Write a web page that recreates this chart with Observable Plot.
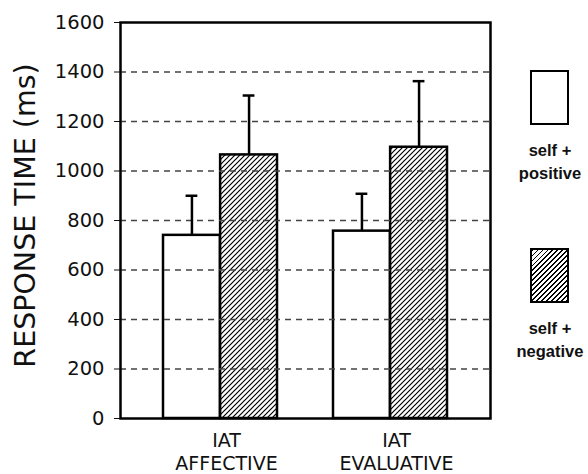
<!DOCTYPE html>
<html>
<head>
<meta charset="utf-8">
<script src="https://cdn.jsdelivr.net/npm/d3@7"></script>
<script src="https://cdn.jsdelivr.net/npm/@observablehq/plot@0.6"></script>
<style>
  body { margin: 0; background: #fff; }
  #wrap { position: relative; width: 588px; height: 474px; font-family: "Liberation Sans", Arial, sans-serif; }
  .leg { position: absolute; text-align: center; font-weight: bold; font-size: 16.5px; line-height: 23px; color: #111; }
  .box { position: absolute; box-sizing: border-box; border: 2px solid #000; }
</style>
</head>
<body>
<div id="wrap"></div>
<script>
// ---- data ----
const groups = ["IAT\nAFFECTIVE", "IAT\nEVALUATIVE"];
const series = ["self + positive", "self + negative"];
const positiveMeans = [740, 757];
const positiveUpper = [900, 908];
const negativeMeans = [1065, 1096];
const negativeUpper = [1305, 1363];
const yTicks = [0, 200, 400, 600, 800, 1000, 1200, 1400, 1600];
const gridTicks = [200, 400, 600, 800, 1000, 1200, 1400];
const yLabel = "RESPONSE TIME (ms)";

const pos = groups.map((g, i) => ({group: g, series: series[0], mean: positiveMeans[i], upper: positiveUpper[i]}));
const neg = groups.map((g, i) => ({group: g, series: series[1], mean: negativeMeans[i], upper: negativeUpper[i]}));

// ---- layout ----
const W = 588, H = 474;
const mL = 120, mR = 98, mT = 22, mB = 56;
const pi = 0.33, po = 0.25;
const plotW = W - mL - mR;
const step = plotW / (groups.length - pi + 2 * po);
const bw = step * (1 - pi);
const half = bw / 2;
const cap = 6;

const chart = Plot.plot({
  width: W, height: H,
  marginLeft: mL, marginRight: mR, marginTop: mT, marginBottom: mB,
  style: {fontFamily: "'DejaVu Sans', sans-serif", background: "#fff", color: "#111"},
  x: {domain: groups, paddingInner: pi, paddingOuter: po, align: 0.5, axis: null},
  y: {domain: [0, 1600], ticks: yTicks, tickSize: 6, tickPadding: 10, label: null, tickFormat: d => String(d)},
  marks: [
    // bars
    Plot.barY(pos, {x: "group", y: "mean", fill: "#fff", stroke: "#000", strokeWidth: 2.5, insetRight: half}),
    Plot.barY(neg, {x: "group", y: "mean", fill: "url(#hatch)", stroke: "#000", strokeWidth: 2.5, insetLeft: half}),
    // grid drawn over bars (as in reference)
    Plot.ruleY(gridTicks, {stroke: "#444", strokeWidth: 1.4, strokeDasharray: "6,5"}),
    // error bars
    Plot.ruleX(pos, {x: "group", y1: "mean", y2: "upper", dx: -bw / 4, stroke: "#000", strokeWidth: 2.5}),
    Plot.ruleX(neg, {x: "group", y1: "mean", y2: "upper", dx: bw / 4, stroke: "#000", strokeWidth: 2.5}),
    Plot.tickY(pos, {x: "group", y: "upper", insetLeft: bw / 4 - cap, insetRight: bw * 3 / 4 - cap, stroke: "#000", strokeWidth: 2.5}),
    Plot.tickY(neg, {x: "group", y: "upper", insetLeft: bw * 3 / 4 - cap, insetRight: bw / 4 - cap, stroke: "#000", strokeWidth: 2.5}),
    Plot.frame({stroke: "#000", strokeWidth: 2.5}),
    // category labels
    Plot.text(groups, {x: d => d, text: d => d, frameAnchor: "bottom", lineAnchor: "top", dy: 12, dx: 6, fontSize: 19, lineHeight: 1.22, fill: "#111"}),
    // y label
    Plot.text([yLabel], {frameAnchor: "left", textAnchor: "middle", text: d => d, rotate: -90, dx: -95, dy: -5, fontSize: 28.5, fill: "#111"})
  ]
});

// hatch pattern
const ns = "http://www.w3.org/2000/svg";
const defs = document.createElementNS(ns, "defs");
defs.innerHTML = `<pattern id="hatch" patternUnits="userSpaceOnUse" width="5" height="5">
  <rect width="5" height="5" fill="#fff"/>
  <path d="M-1,1 l2,-2 M0,5 l5,-5 M4,6 l2,-2" stroke="#000" stroke-width="1.2"/>
</pattern>`;
chart.insertBefore(defs, chart.firstChild);
chart.setAttribute("font-size", "19.5");

const wrap = document.getElementById("wrap");
wrap.appendChild(chart);

// legend (HTML)
function addBox(top, hatched) {
  const b = document.createElement("div");
  b.className = "box";
  Object.assign(b.style, {left: "530px", top: top + "px", width: "39px", height: "55px",
    background: hatched ? "repeating-linear-gradient(-45deg, #000 0 1.2px, #fff 1.2px 3.5px)" : "#fff"});
  wrap.appendChild(b);
}
function addLabel(top, text) {
  const l = document.createElement("div");
  l.className = "leg";
  Object.assign(l.style, {left: "505px", width: "90px", top: top + "px"});
  l.innerHTML = text;
  wrap.appendChild(l);
}
addBox(70, false);
addLabel(139, "self +<br>positive");
addBox(248, true);
addLabel(317, "self +<br>negative");
</script>
</body>
</html>
